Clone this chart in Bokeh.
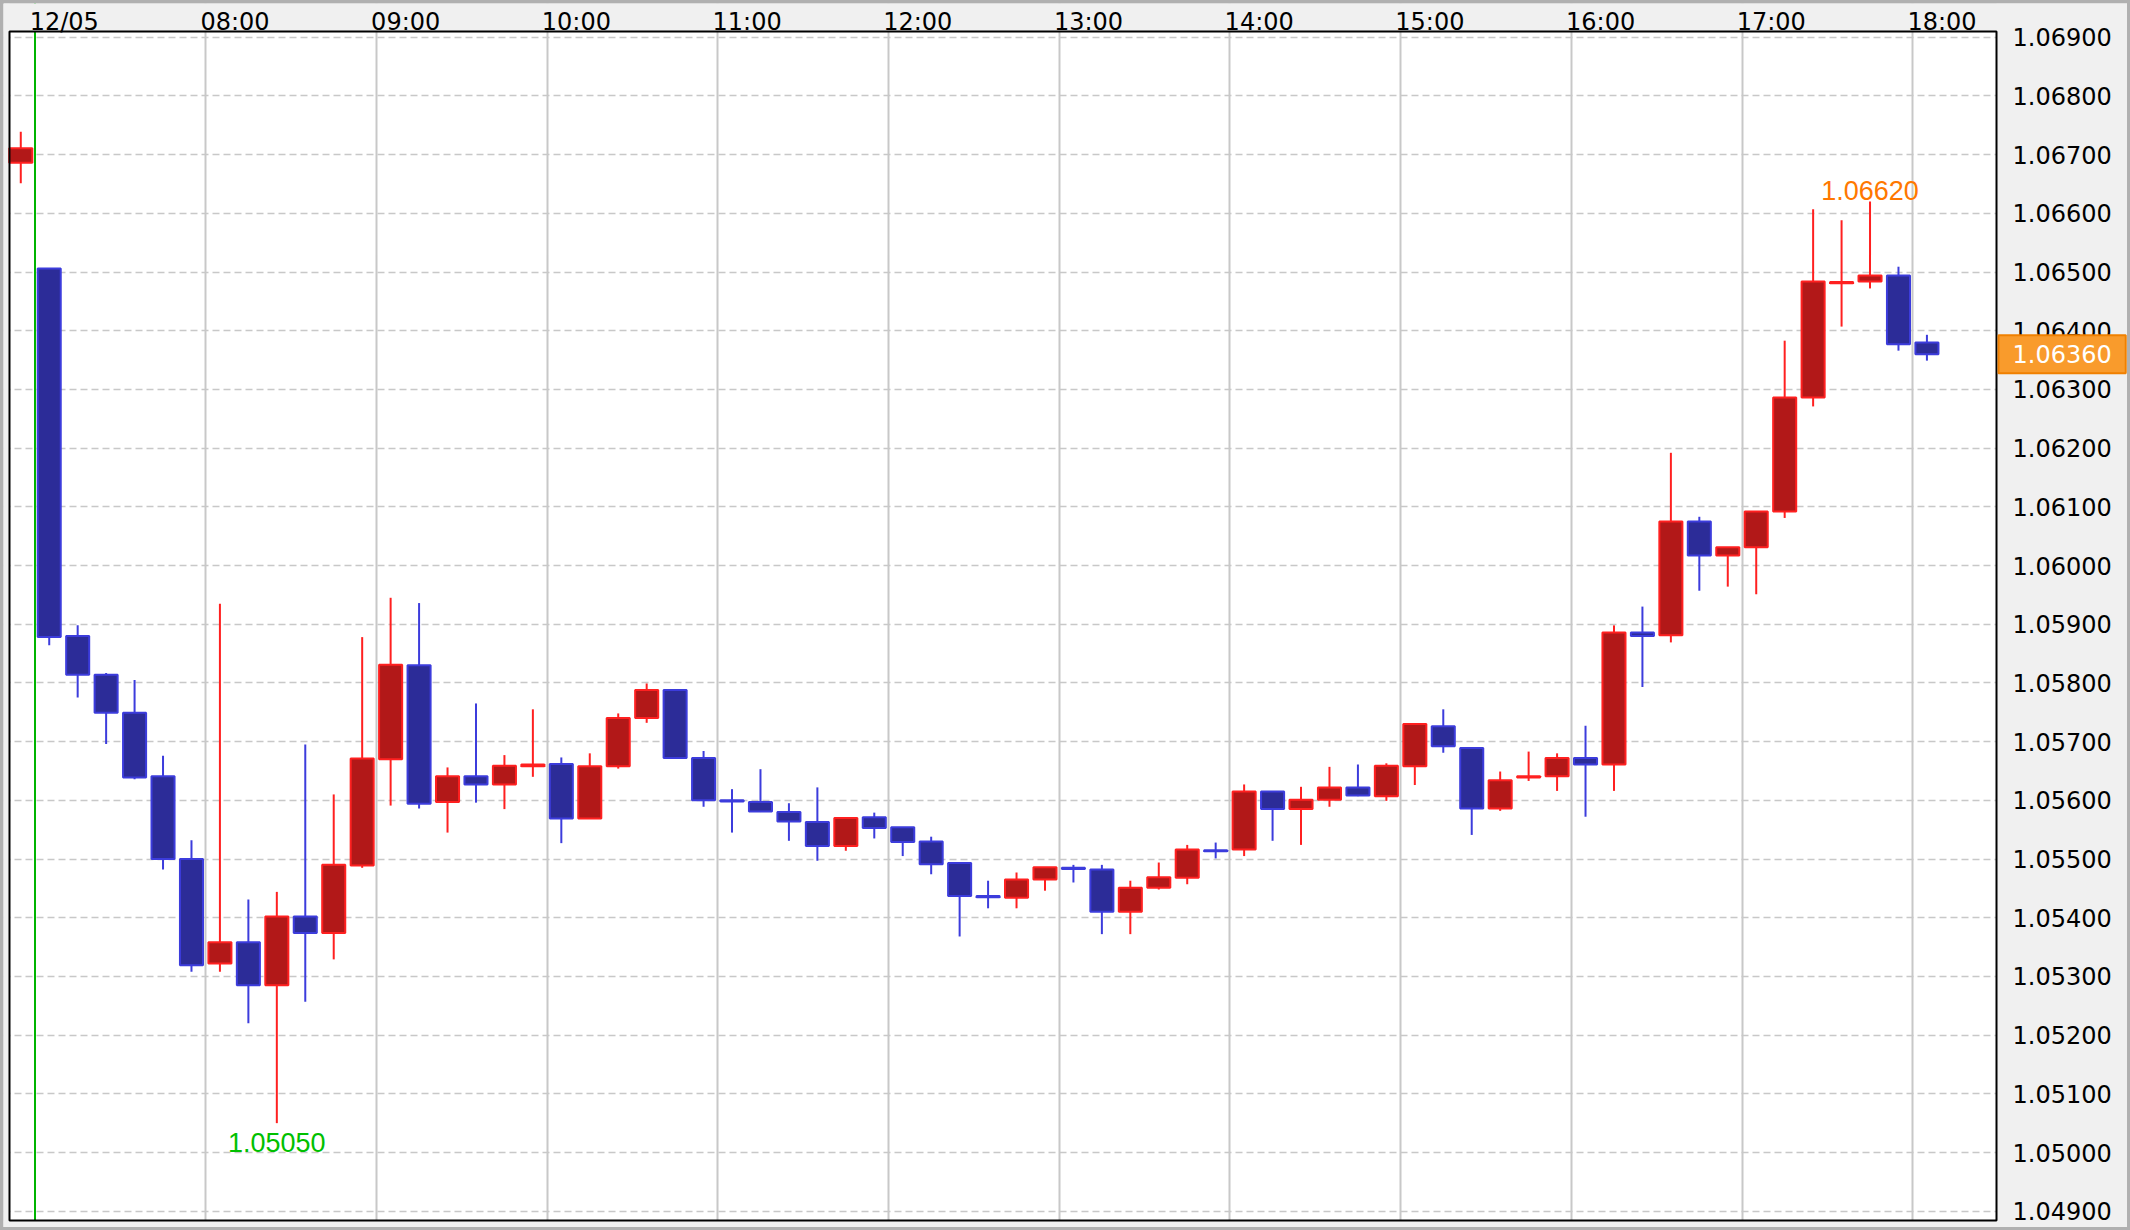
from bokeh.plotting import figure
from bokeh.models import (ColumnDataSource, Range1d, FixedTicker, PrintfTickFormatter,
                          Span, Label, LinearAxis, GlobalInlineStyleSheet)
from bokeh.embed import file_html
from bokeh.resources import INLINE

# ---------------- data (10-minute EUR/USD candles) ----------------
times = ["06:50",
         "07:00", "07:10", "07:20", "07:30", "07:40", "07:50",
         "08:00", "08:10", "08:20", "08:30", "08:40", "08:50",
         "09:00", "09:10", "09:20", "09:30", "09:40", "09:50",
         "10:00", "10:10", "10:20", "10:30", "10:40", "10:50",
         "11:00", "11:10", "11:20", "11:30", "11:40", "11:50",
         "12:00", "12:10", "12:20", "12:30", "12:40", "12:50",
         "13:00", "13:10", "13:20", "13:30", "13:40", "13:50",
         "14:00", "14:10", "14:20", "14:30", "14:40", "14:50",
         "15:00", "15:10", "15:20", "15:30", "15:40", "15:50",
         "16:00", "16:10", "16:20", "16:30", "16:40", "16:50",
         "17:00", "17:10", "17:20", "17:30", "17:40", "17:50",
         "18:00"]
opens = [1.06686,
         1.06506, 1.05880, 1.05814, 1.05749, 1.05641, 1.05500,
         1.05322, 1.05358, 1.05285, 1.05402, 1.05374, 1.05489,
         1.05670, 1.05830, 1.05597, 1.05641, 1.05627, 1.05658,
         1.05662, 1.05569, 1.05658, 1.05740, 1.05788, 1.05672,
         1.05600, 1.05597, 1.05580, 1.05563, 1.05522, 1.05571,
         1.05554, 1.05530, 1.05493, 1.05437, 1.05434, 1.05465,
         1.05485, 1.05482, 1.05410, 1.05451, 1.05468, 1.05515,
         1.05516, 1.05615, 1.05585, 1.05601, 1.05622, 1.05607,
         1.05658, 1.05726, 1.05689, 1.05586, 1.05639, 1.05641,
         1.05672, 1.05661, 1.05886, 1.05881, 1.06075, 1.06017,
         1.06031, 1.06092, 1.06286, 1.06481, 1.06484, 1.06494,
         1.06380]
highs = [1.06739,
         1.06506, 1.05898, 1.05817, 1.05805, 1.05676, 1.05532,
         1.05935, 1.05431, 1.05444, 1.05695, 1.05610, 1.05878,
         1.05945, 1.05936, 1.05656, 1.05765, 1.05677, 1.05755,
         1.05673, 1.05680, 1.05748, 1.05799, 1.05788, 1.05684,
         1.05619, 1.05653, 1.05595, 1.05622, 1.05570, 1.05579,
         1.05554, 1.05538, 1.05493, 1.05463, 1.05477, 1.05486,
         1.05490, 1.05490, 1.05463, 1.05494, 1.05524, 1.05528,
         1.05627, 1.05615, 1.05623, 1.05657, 1.05661, 1.05663,
         1.05730, 1.05755, 1.05689, 1.05649, 1.05683, 1.05680,
         1.05727, 1.05898, 1.05930, 1.06192, 1.06083, 1.06031,
         1.06092, 1.06383, 1.06607, 1.06588, 1.06620, 1.06509,
         1.06393]
lows = [1.06651,
        1.05864, 1.05775, 1.05696, 1.05636, 1.05482, 1.05308,
        1.05308, 1.05220, 1.05050, 1.05257, 1.05329, 1.05485,
        1.05591, 1.05586, 1.05545, 1.05596, 1.05585, 1.05640,
        1.05527, 1.05569, 1.05654, 1.05732, 1.05672, 1.05589,
        1.05545, 1.05580, 1.05531, 1.05497, 1.05514, 1.05535,
        1.05505, 1.05474, 1.05368, 1.05416, 1.05416, 1.05446,
        1.05460, 1.05372, 1.05372, 1.05448, 1.05457, 1.05501,
        1.05505, 1.05531, 1.05524, 1.05589, 1.05607, 1.05599,
        1.05626, 1.05681, 1.05541, 1.05582, 1.05633, 1.05616,
        1.05572, 1.05616, 1.05793, 1.05869, 1.05957, 1.05964,
        1.05951, 1.06081, 1.06271, 1.06407, 1.06472, 1.06366,
        1.06349]
closes = [1.06711,
          1.05878, 1.05814, 1.05749, 1.05639, 1.05500, 1.05319,
          1.05358, 1.05285, 1.05402, 1.05374, 1.05490, 1.05671,
          1.05831, 1.05594, 1.05641, 1.05627, 1.05659, 1.05661,
          1.05569, 1.05658, 1.05740, 1.05788, 1.05672, 1.05600,
          1.05598, 1.05581, 1.05564, 1.05522, 1.05570, 1.05553,
          1.05529, 1.05491, 1.05437, 1.05435, 1.05465, 1.05486,
          1.05483, 1.05410, 1.05451, 1.05469, 1.05516, 1.05513,
          1.05615, 1.05585, 1.05601, 1.05622, 1.05608, 1.05659,
          1.05730, 1.05692, 1.05586, 1.05634, 1.05641, 1.05672,
          1.05661, 1.05886, 1.05880, 1.06075, 1.06017, 1.06031,
          1.06092, 1.06286, 1.06484, 1.06483, 1.06494, 1.06377,
          1.06360]

hour_marks = ["07:00", "08:00", "09:00", "10:00", "11:00", "12:00",
              "13:00", "14:00", "15:00", "16:00", "17:00", "18:00"]
hour_labels = ["12/05", "08:00", "09:00", "10:00", "11:00", "12:00",
               "13:00", "14:00", "15:00", "16:00", "17:00", "18:00"]
day_start = "07:00"
price_ticks = [1.049, 1.050, 1.051, 1.052, 1.053, 1.054, 1.055, 1.056, 1.057,
               1.058, 1.059, 1.060, 1.061, 1.062, 1.063, 1.064, 1.065, 1.066,
               1.067, 1.068, 1.069]
last_price = 1.06360
low_mark_time, low_mark_price = "08:20", 1.05050
high_mark_time, high_mark_price = "17:40", 1.06620

# ---------------- layout (page pixels of the reference) ----------------
PAD = 3                      # outer grey border of the page
W, H = 2130 - 2 * PAD, 1230 - 2 * PAD
PX_07, PX_PER_H = 34.5, 170.7        # x of 07:00 line, px per hour
PY_TOP_TICK, PX_PER_UNIT = 36.7, 58700.0  # y of top price tick, px per 1.0 price
BOX_L, BOX_R, BOX_T, BOX_B = 9, 1996, 31, 1220


def px2x(px):
    return (px - PX_07) / PX_PER_H


def py2p(py):
    return price_ticks[-1] - (py - PY_TOP_TICK) / PX_PER_UNIT


BAR_MIN = 10


def to_x(t):
    h, m = t.split(":")
    return int(h) - 7 + int(m) / 60.0


def centre(t):
    return to_x(t) + BAR_MIN / 120.0


UP_FILL, UP_LINE = "#b21818", "#ff2020"
DN_FILL, DN_LINE = "#2c2c98", "#3c3cdc"
PANEL = "#f0f0f0"

xs = [centre(t) for t in times]
up = [c >= o for o, c in zip(opens, closes)]
src = ColumnDataSource(dict(
    x=xs, high=highs, low=lows,
    top=[max(o, c) for o, c in zip(opens, closes)],
    bottom=[min(o, c) for o, c in zip(opens, closes)],
    fill=[UP_FILL if u else DN_FILL for u in up],
    line=[UP_LINE if u else DN_LINE for u in up],
))

x0, x1 = px2x(PAD), px2x(PAD + W)
y0, y1 = py2p(PAD + H), py2p(PAD)

p = figure(width=W, height=H, output_backend="svg", toolbar_location=None,
           x_range=Range1d(x0, x1), y_range=Range1d(y0, y1),
           x_axis_location=None, y_axis_location="right",
           min_border=0, min_border_left=0, min_border_right=0,
           min_border_top=0, min_border_bottom=0,
           background_fill_color="white", border_fill_color=PANEL,
           outline_line_color=None)

p.stylesheets = [GlobalInlineStyleSheet(
    css="html{overflow:hidden;} html,body{margin:0 !important;} "
        "body{padding:3px !important;background:#b0b0b0;box-sizing:border-box;"
        "width:2130px;height:1230px;overflow:hidden;}")]

# grids
p.xgrid.ticker = FixedTicker(ticks=[to_x(t) for t in hour_marks[1:]])
p.xgrid.grid_line_color = "#c8c8c8"
p.xgrid.grid_line_width = 2
p.ygrid.ticker = FixedTicker(ticks=price_ticks)
p.ygrid.grid_line_color = "#c8c8c8"
p.ygrid.grid_line_width = 1.5
p.ygrid.grid_line_dash = "7 4"

# day separator
p.add_layout(Span(location=to_x(day_start), dimension="height", line_color="#00b400",
                  line_width=2, level="underlay"))

# grey panels around the chart box
bl, br, bt, bb = px2x(BOX_L), px2x(BOX_R), py2p(BOX_T), py2p(BOX_B)
p.quad(left=[x0, br, x0, x0], right=[bl, x1, x1, x1],
       bottom=[y0, y0, bt, y0], top=[y1, y1, y1, bb],
       fill_color=PANEL, line_color=None)

# candles
p.segment(x0="x", y0="low", x1="x", y1="high", line_color="line", line_width=2, source=src)
p.vbar(x="x", width=0.135, top="top", bottom="bottom", fill_color="fill",
       line_color="line", line_width=2, source=src)

# chart box border
p.quad(left=[bl], right=[br], bottom=[bb], top=[bt], fill_color=None,
       line_color="black", line_width=2)

# right price axis (drawn at the box edge)
ax = p.yaxis[0]
ax.fixed_location = br
ax.ticker = FixedTicker(ticks=price_ticks)
ax.formatter = PrintfTickFormatter(format="%.5f")
ax.major_label_text_font = "DejaVu Sans"
ax.major_label_text_font_size = "24px"
ax.major_label_text_color = "black"
ax.major_label_standoff = 16
ax.major_tick_in = 0
ax.major_tick_out = 0
ax.minor_tick_in = 0
ax.minor_tick_out = 0
ax.axis_line_color = None

# top time axis: labels start just left of their hour line
LABEL_SHIFT = 29.3 / PX_PER_H
p.extra_x_ranges = {"lab": Range1d(x0 - LABEL_SHIFT, x1 - LABEL_SHIFT)}
tax = LinearAxis(x_range_name="lab", fixed_location=py2p(BOX_T + 4),
                 ticker=FixedTicker(ticks=[to_x(t) for t in hour_marks]),
                 major_label_overrides={int(to_x(t)): lab for t, lab in zip(hour_marks, hour_labels)})
tax.major_label_text_font = "DejaVu Sans"
tax.major_label_text_font_size = "24px"
tax.major_label_text_color = "black"
tax.major_label_standoff = 0
tax.major_tick_in = 0
tax.major_tick_out = 0
tax.minor_tick_in = 0
tax.minor_tick_out = 0
tax.axis_line_color = None
p.add_layout(tax, "above")

# low / high markers
p.add_layout(Label(x=centre(low_mark_time), y=low_mark_price, text=f"{low_mark_price:.5f}",
                   text_align="center", text_baseline="top", y_offset=-10,
                   text_font="Liberation Sans", text_font_size="27px", text_color="#00c000"))
p.add_layout(Label(x=centre(high_mark_time), y=high_mark_price, text=f"{high_mark_price:.5f}",
                   text_align="center", text_baseline="top", y_offset=21,
                   text_font="Liberation Sans", text_font_size="27px", text_color="#ff7800"))

# last price box
p.add_layout(Label(x=px2x(BOX_R + 2), y=last_price,
                   text=f"{last_price:.5f}", text_align="left", text_baseline="middle",
                   text_font="DejaVu Sans", text_font_size="24px", text_color="white",
                   background_fill_color="#f99b2c", border_line_color="#f08000",
                   border_line_width=2, padding=(14, 10)))

open("out.html", "w").write(file_html(p, INLINE))
